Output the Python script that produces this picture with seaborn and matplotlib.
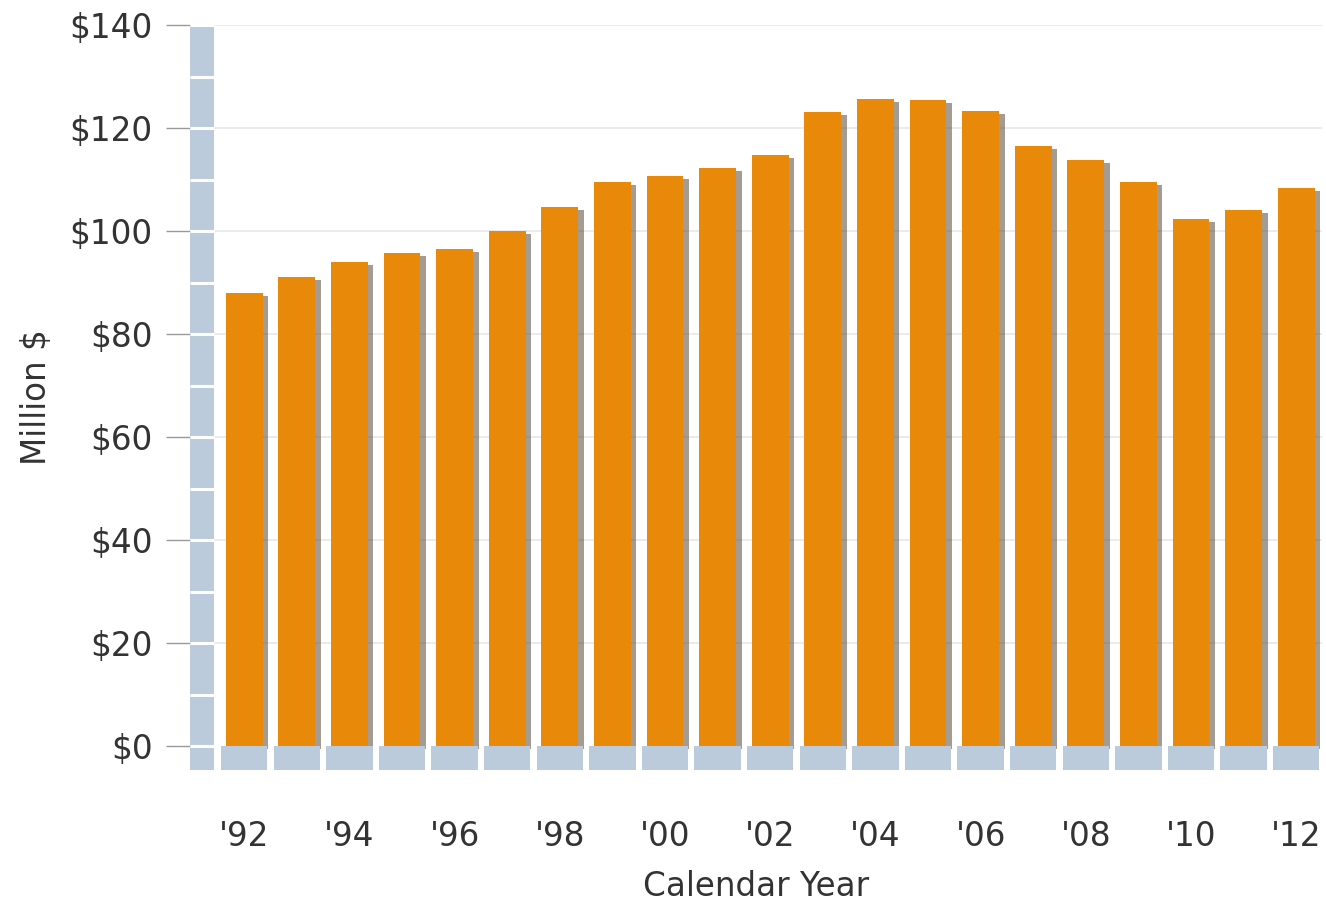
import matplotlib
matplotlib.use("Agg")
import matplotlib.pyplot as plt
import matplotlib.patheffects as pe
from matplotlib.patches import Rectangle
import seaborn as sns
import pandas as pd

# ==========================================
# Data
# ==========================================

years = ["'92", "'93", "'94", "'95", "'96", "'97", "'98", "'99", "'00", "'01", "'02",
         "'03", "'04", "'05", "'06", "'07", "'08", "'09", "'10", "'11", "'12"]
values = [88.0, 91.1, 94.0, 95.7, 96.5, 100.0, 104.7, 109.5, 110.7, 112.2, 114.8,
          123.1, 125.6, 125.4, 123.3, 116.5, 113.8, 109.5, 102.3, 104.1, 108.3]
y_ticks = [0, 20, 40, 60, 80, 100, 120, 140]
y_labels = ["$" + str(v) for v in y_ticks]

df = pd.DataFrame({"year": years, "value": values})

# ==========================================
# Style
# ==========================================

sns.set_style("white")
plt.rcParams["font.family"] = ["DejaVu Sans"]

bar_color = "#E8890A"
wall_color = "#BCCBDB"
text_color = "#333333"
fs = 23.5

fig = plt.figure(figsize=(13.26, 9.07), dpi=100)
ax = fig.add_axes([190 / 1326, 1 - 770 / 907, (1322 - 190) / 1326, (770 - 25) / 907])

x_left, x_wall, x_right = -1.03, -0.57, 20.49
floor = 4.66

# gridlines
ax.hlines(y_ticks[1:], x_wall, x_right, color="#e8e8e8", lw=1.2, zorder=0)

# bars
sns.barplot(data=df, x="year", y="value", color=bar_color, width=0.7,
            saturation=1, linewidth=0, ax=ax, zorder=3)
for p in ax.patches:
    p.set_path_effects([
        pe.SimplePatchShadow(offset=(4, -2), shadow_rgbFace="#5a4a3a", alpha=0.55),
        pe.Normal(),
    ])

# left wall
ax.add_patch(Rectangle((x_left, -floor), x_wall - x_left, 140 + floor,
                       color=wall_color, zorder=1, lw=0))
ax.hlines(range(0, 141, 10), x_left, x_wall, color="white", lw=2.2, zorder=2)

# floor blocks
ax.bar(range(len(years)), [floor] * len(years), bottom=-floor, width=0.88,
       color=wall_color, zorder=4, lw=0)

ax.set_xlim(x_left, x_right)
ax.set_ylim(-floor, 140)

# ticks
ax.set_yticks(y_ticks)
ax.set_yticklabels(y_labels, fontsize=fs, color=text_color)
ax.tick_params(axis="y", length=17, width=1, color="#999999", pad=10, left=True)
ax.set_xticks(range(0, len(years), 2))
ax.set_xticklabels(years[::2], fontsize=fs, color=text_color)
ax.tick_params(axis="x", length=0, pad=36)

ax.set_xlabel("Calendar Year", fontsize=fs, color=text_color, labelpad=12)
ax.set_ylabel("Million $", fontsize=fs, color=text_color, labelpad=12)

for s in ax.spines.values():
    s.set_visible(False)

plt.savefig("out.png", dpi=100)
plt.close()
